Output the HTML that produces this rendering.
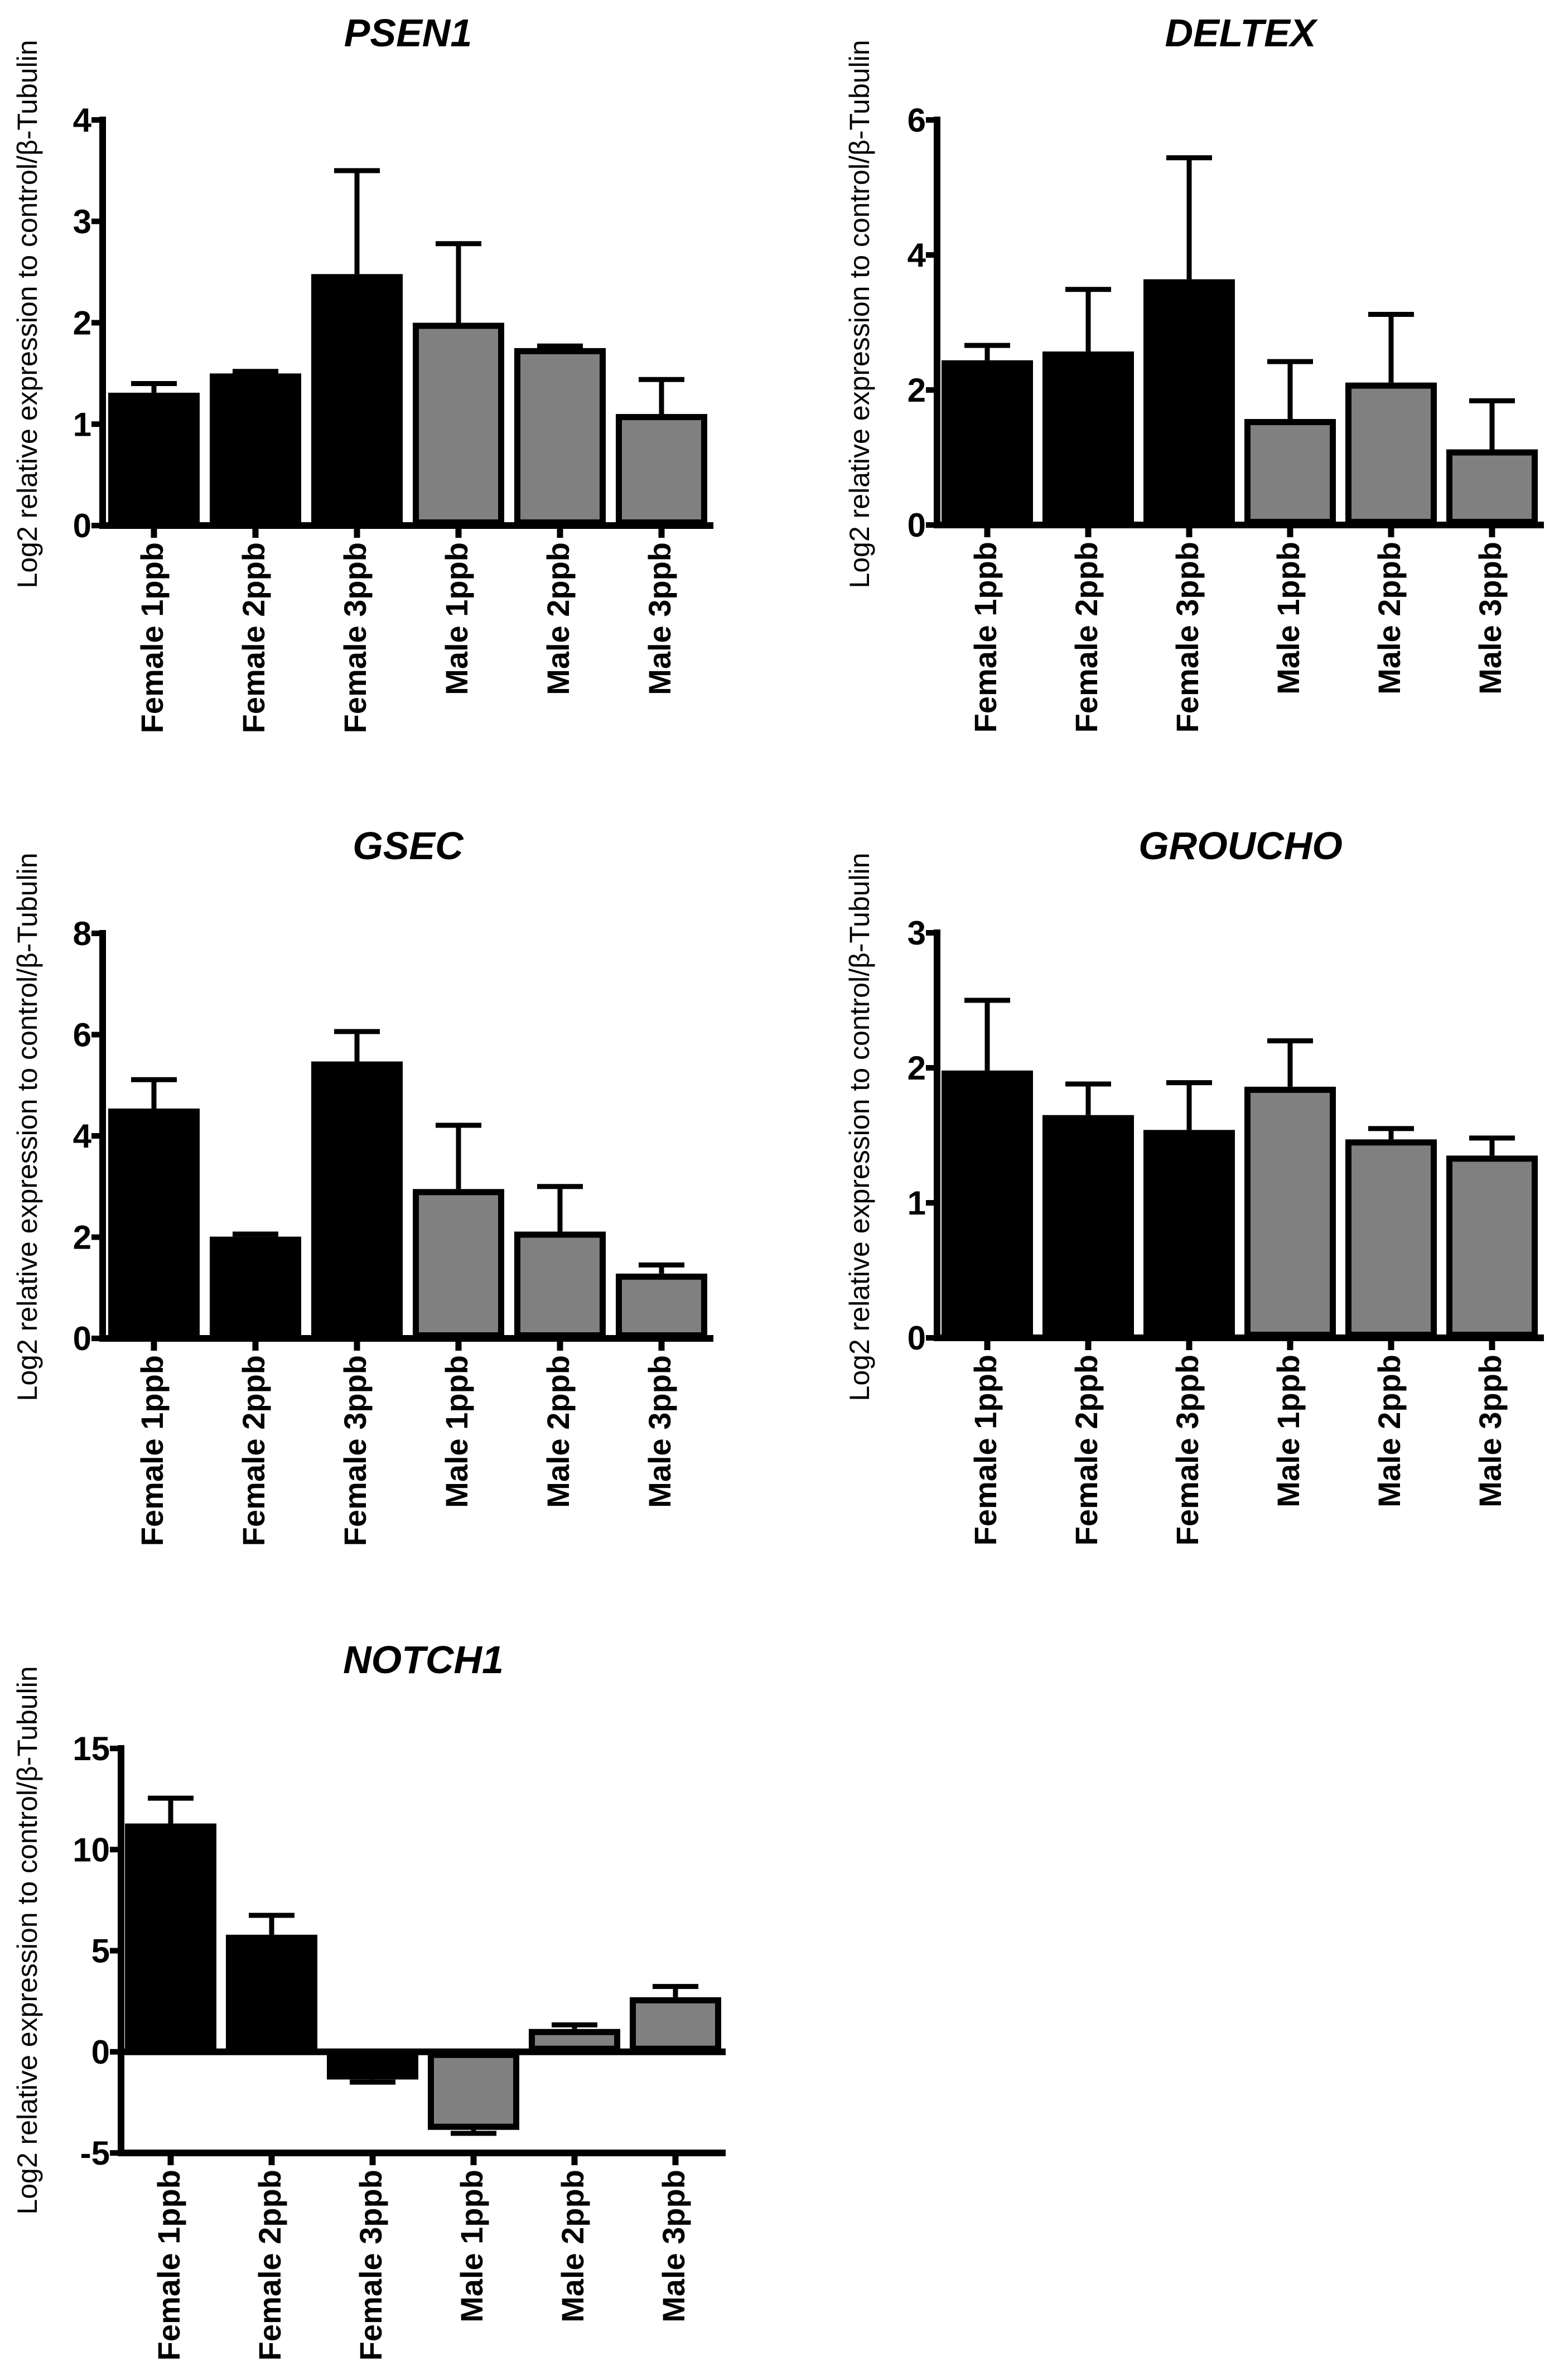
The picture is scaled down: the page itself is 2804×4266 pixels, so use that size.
<!DOCTYPE html>
<html><head><meta charset="utf-8">
<style>
html,body{margin:0;padding:0;background:#fff;}
svg{display:block;}
text{font-family:"Liberation Sans",Arial,sans-serif;}
</style></head>
<body>
<svg id="fig" width="2804" height="4266" viewBox="0 0 2804 4266" xmlns="http://www.w3.org/2000/svg"></svg>
<script>
// ---- data ----
const categories = ["Female 1ppb","Female 2ppb","Female 3ppb","Male 1ppb","Male 2ppb","Male 3ppb"];
const isMale = [false,false,false,true,true,true];
const psen1Values = [1.31,1.50,2.48,2.00,1.75,1.10];
const psen1Errors = [0.09,0.02,1.02,0.78,0.02,0.34];
const psen1Ticks = [0,1,2,3,4];
const deltexValues = [2.44,2.57,3.64,1.57,2.11,1.12];
const deltexErrors = [0.22,0.92,1.80,0.85,1.01,0.72];
const deltexTicks = [0,2,4,6];
const gsecValues = [4.54,2.01,5.47,2.95,2.11,1.28];
const gsecErrors = [0.57,0.05,0.59,1.26,0.89,0.17];
const gsecTicks = [0,2,4,6,8];
const grouchoValues = [1.98,1.65,1.54,1.86,1.47,1.35];
const grouchoErrors = [0.52,0.23,0.35,0.34,0.08,0.13];
const grouchoTicks = [0,1,2,3];
const notch1Values = [11.29,5.79,-1.37,-3.86,1.13,2.70];
const notch1Errors = [1.25,0.96,0.13,0.17,0.20,0.53];
const notch1Ticks = [-5,0,5,10,15];
const titles = ["PSEN1","DELTEX","GSEC","GROUCHO","NOTCH1"];

const NS = "http://www.w3.org/2000/svg";
const svg = document.getElementById('fig');
function mk(tag, attrs, parent){
  const e = document.createElementNS(NS, tag);
  for (const k in attrs) e.setAttribute(k, attrs[k]);
  (parent||svg).appendChild(e);
  return e;
}

function panel(cfg, values, errors, ticks, title, key){
  const g = mk('g', {});
  
  
  const yMin = ticks[0], yMax = ticks[ticks.length-1];
  const y = v => cfg.yBot - (v - yMin) / (yMax - yMin) * (cfg.yBot - cfg.yTop);
  const x = i => cfg.x0 + i * cfg.step;
  const y0 = y(Math.max(0, yMin));

  const t = mk('text', {x:(cfg.ax+cfg.xEnd)/2, y:cfg.titleY, 'text-anchor':'middle', 'font-size':70, 'font-weight':'bold', 'font-style':'italic'}, g);
  t.textContent = title;
  
  

  const yt = mk('text', {x:0, y:0, 'text-anchor':'middle', 'font-size':50, transform:`translate(${cfg.ytX},${cfg.ytY}) rotate(-90)`}, g);
  yt.textContent = "Log2 relative expression to control/\u03B2-Tubulin";
  
  

  values.forEach((v, i) => {
    const cx = x(i), hw = 82, sw = 11;
    const top = y(v);
    const ry = Math.min(top, y0), rh = Math.abs(top - y0);
    const r = mk('rect', {x:cx-hw+sw/2, y:ry+sw/2, width:2*hw-sw, height:Math.max(rh-sw,0.1), fill:isMale[i]?'#808080':'#000', stroke:'#000', 'stroke-width':sw}, g);
    
    
    const dir = v >= 0 ? 1 : -1;
    const ye = y(v + dir * errors[i]);
    const el = mk('line', {x1:cx, y1:top, x2:cx, y2:ye, stroke:'#000', 'stroke-width':9}, g);
    
    
    const cap = mk('line', {x1:cx-41, y1:ye, x2:cx+41, y2:ye, stroke:'#000', 'stroke-width':9}, g);
    
    
  });

  const ya = mk('line', {x1:cfg.ax, y1:cfg.yTop-6, x2:cfg.ax, y2:cfg.yBot+6, stroke:'#000', 'stroke-width':12}, g);
  
  
  ticks.forEach(tv => {
    const ty = y(tv);
    const tk = mk('line', {x1:cfg.ax-20, y1:ty, x2:cfg.ax, y2:ty, stroke:'#000', 'stroke-width':10}, g);
    
    
    const tl = mk('text', {x:cfg.ax-20, y:ty+21, 'text-anchor':'end', 'font-size':60, 'font-weight':'bold'}, g);
    tl.textContent = String(tv);
    
    
  });

  const xa = mk('line', {x1:cfg.ax-6, y1:y0, x2:cfg.xEnd, y2:y0, stroke:'#000', 'stroke-width':12}, g);
  
  
  const yb = cfg.yBot;
  if (yMin < 0) {
    const xb = mk('line', {x1:cfg.ax-6, y1:yb, x2:cfg.xEnd, y2:yb, stroke:'#000', 'stroke-width':12}, g);
    
    
  }
  categories.forEach((c, i) => {
    const cx = x(i);
    const tk = mk('line', {x1:cx, y1:yb, x2:cx, y2:yb+22, stroke:'#000', 'stroke-width':11}, g);
    
    
    const lb = mk('text', {x:0, y:0, 'text-anchor':'end', 'font-size':56, 'font-weight':'bold', transform:`translate(${cx+16},${yb+30}) rotate(-90)`}, g);
    lb.textContent = c;
    
    
  });
}

panel({ax:184, x0:276, step:182, xEnd:1279, yTop:215, yBot:942, titleY:83, ytX:66, ytY:563}, psen1Values, psen1Errors, psen1Ticks, titles[0], 'psen1');
panel({ax:1680, x0:1770, step:181, xEnd:2768, yTop:215, yBot:941, titleY:83, ytX:1558, ytY:563}, deltexValues, deltexErrors, deltexTicks, titles[1], 'deltex');
panel({ax:184, x0:276, step:182, xEnd:1279, yTop:1673, yBot:2399, titleY:1540, ytX:66, ytY:2020}, gsecValues, gsecErrors, gsecTicks, titles[2], 'gsec');
panel({ax:1680, x0:1770, step:181, xEnd:2768, yTop:1672, yBot:2398, titleY:1540, ytX:1558, ytY:2020}, grouchoValues, grouchoErrors, grouchoTicks, titles[3], 'groucho');
panel({ax:217, x0:306, step:181, xEnd:1301, yTop:3134, yBot:3859, titleY:2999, ytX:66, ytY:3478}, notch1Values, notch1Errors, notch1Ticks, titles[4], 'notch1');
</script>
</body></html>
